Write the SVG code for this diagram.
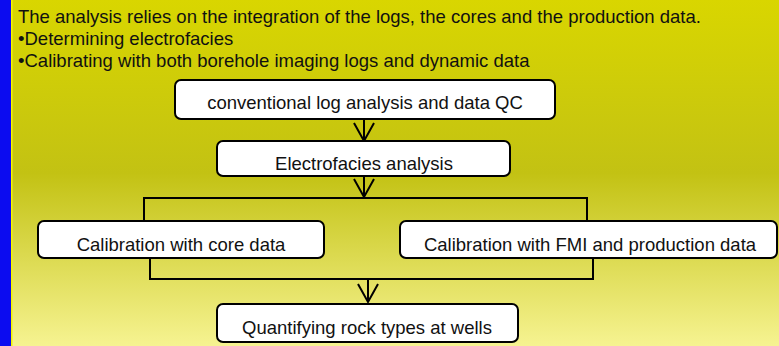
<svg xmlns="http://www.w3.org/2000/svg" width="779" height="346" viewBox="0 0 779 346">
  <defs>
    <linearGradient id="bg" x1="0" y1="0" x2="0" y2="1">
      <stop offset="0" stop-color="#d9d600"/>
      <stop offset="0.5" stop-color="#c3c213"/>
      <stop offset="1" stop-color="#f6f391"/>
    </linearGradient>
    <marker id="vee" markerUnits="userSpaceOnUse" markerWidth="24" markerHeight="24" refX="0" refY="0" orient="auto" overflow="visible">
      <path d="M-18,-10 L0,0 L-18,10" fill="none" stroke="#000" stroke-width="2"/>
    </marker>
  </defs>
  <style>
    text { font-family: "Liberation Sans", Arial, sans-serif; font-size: 18.5px; fill: #111; }
    .box rect { fill: #fff; stroke: #000; stroke-width: 2; }
    .box text { text-anchor: middle; }
    .conn { fill: none; stroke: #000; stroke-width: 2; }
  </style>
  <rect x="0" y="0" width="779" height="346" fill="url(#bg)"/>
  <rect x="0" y="0" width="11" height="346" fill="#0c0cf0"/>
  <rect x="11" y="0" width="1.5" height="346" fill="#f4f400"/>

  <g id="intro">
    <text x="18" y="23">The analysis relies on the integration of the logs, the cores and the production data.</text>
    <text x="18" y="45">•Determining electrofacies</text>
    <text x="18" y="67">•Calibrating with both borehole imaging logs and dynamic data</text>
  </g>

  <g id="connectors">
    <line class="conn" x1="364" y1="120" x2="364" y2="141" marker-end="url(#vee)"/>
    <line class="conn" x1="364" y1="176" x2="364" y2="197" marker-end="url(#vee)"/>
    <polyline class="conn" points="144,221 144,198 587,198 587,221"/>
    <polyline class="conn" points="150,258 150,279 593,279 593,258"/>
    <line class="conn" x1="368" y1="279" x2="368" y2="302" marker-end="url(#vee)"/>
  </g>

  <g id="n1" class="box">
    <rect x="175" y="80" width="380" height="39" rx="6"/>
    <text x="365" y="109">conventional log analysis and data QC</text>
  </g>
  <g id="n2" class="box">
    <rect x="217" y="141" width="293" height="35" rx="6"/>
    <text x="364" y="170">Electrofacies analysis</text>
  </g>
  <g id="n3" class="box">
    <rect x="38" y="221" width="286" height="37" rx="6"/>
    <text x="181" y="251">Calibration with core data</text>
  </g>
  <g id="n4" class="box">
    <rect x="400" y="221" width="377" height="37" rx="6"/>
    <text x="590" y="251">Calibration with FMI and production data</text>
  </g>
  <g id="n5" class="box">
    <rect x="217" y="304" width="301" height="38" rx="6"/>
    <text x="367" y="334">Quantifying rock types at wells</text>
  </g>
</svg>
